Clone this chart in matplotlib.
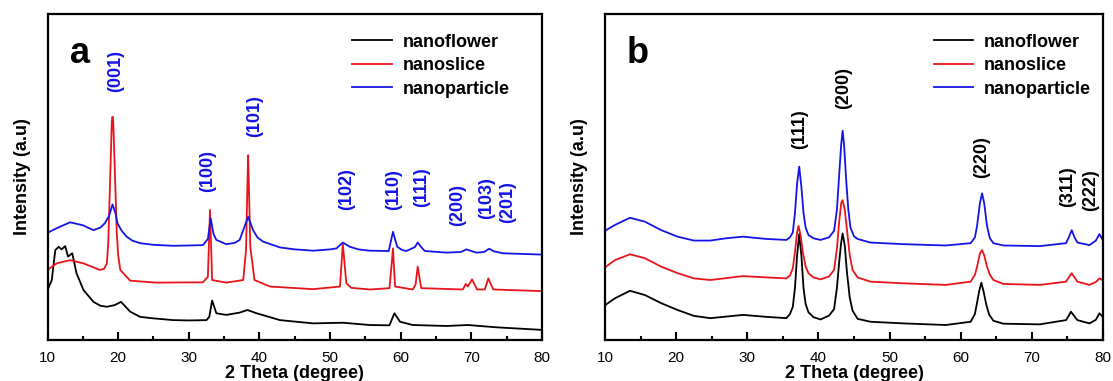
import matplotlib
matplotlib.use("Agg")
import matplotlib.pyplot as plt
from matplotlib.ticker import MultipleLocator

plt.rcParams['font.family'] = ['Liberation Sans', 'DejaVu Sans']

# ---- panel a : XRD patterns (2 theta in degree, intensity in a.u.) ----
a_flower_x = [10.0, 10.6, 11.1, 11.6, 12.0, 12.5, 12.9, 13.5, 14.1, 15.1, 16.5, 17.5, 18.4, 19.5, 20.4,
              21.7, 23.1, 24.7, 27.8, 30.0, 32.5, 32.9, 33.3, 33.9, 35.3, 37.2, 38.3, 39.6, 42.9,
              47.6, 51.8, 55.6, 58.4, 59.1, 59.9, 61.7, 66.5, 69.5, 73.5, 80.0]
a_flower_y = [153, 184, 276, 286, 278, 288, 256, 266, 205, 153, 117, 105, 102, 107, 117,
              87, 71, 67, 61, 60, 61, 71, 121, 82, 77, 84, 92, 82, 61,
              51, 53, 46, 45, 82, 56, 46, 43, 46, 39, 31]

a_slice_x = [10.0, 11.3, 13.2, 15.1, 17.4, 18.0, 18.4, 18.6, 18.9, 19.1, 19.2, 19.3, 19.5, 19.8, 20.0,
             20.3, 21.7, 25.4, 32.0, 32.7, 33.0, 33.3, 35.3, 37.7, 38.1, 38.3, 38.4, 38.5, 38.7,
             39.3, 41.5, 47.6, 51.4, 51.8, 52.3, 53.0, 55.6, 58.4, 58.7, 58.9, 59.0, 59.2, 61.7,
             62.1, 62.4, 62.9, 68.8, 69.2, 69.5, 70.1, 70.8, 71.9, 72.4, 73.1, 80.0]
a_slice_y = [215, 235, 245, 235, 215, 218, 235, 300, 520, 670, 685, 670, 540, 330, 260,
             215, 182, 176, 177, 194, 399, 184, 176, 184, 276, 480, 567, 480, 286,
             184, 164, 156, 164, 294, 174, 160, 155, 159, 230, 281, 240, 164, 155,
             170, 225, 159, 155, 172, 164, 186, 155, 155, 189, 155, 150]

a_part_x = [10.0, 11.5, 13.2, 15.0, 16.5, 17.5, 18.1, 18.7, 19.2, 19.6, 19.9, 20.5, 21.2, 22.0,
            23.1, 25.0, 27.8, 30.0, 32.0, 32.7, 33.1, 33.5, 33.9, 35.3, 36.5, 37.2, 37.7, 38.4,
            39.1, 39.7, 40.5, 42.9, 45.0, 47.6, 50.0, 50.9, 51.8, 52.8, 54.0, 55.6, 58.3, 58.9,
            59.5, 60.2, 60.8, 62.0, 62.4, 62.9, 63.4, 66.5, 68.5, 69.3, 70.7, 71.8, 72.5, 73.2,
            74.5, 80.0]
a_part_y = [329, 345, 361, 352, 337, 345, 358, 380, 416, 390, 358, 335, 317, 305,
            297, 292, 289, 290, 291, 310, 373, 325, 307, 294, 298, 307, 337, 378,
            337, 315, 302, 284, 278, 274, 278, 281, 299, 286, 278, 274, 273, 332,
            286, 276, 273, 285, 299, 285, 273, 268, 270, 278, 268, 270, 280, 272,
            266, 262]

a_hkl = ['(001)', '(100)', '(101)', '(102)', '(110)', '(111)', '(200)', '(103)', '(201)']
a_hkl_x = [19.6, 32.6, 39.3, 52.3, 59.0, 62.9, 68.1, 72.2, 75.2]
a_hkl_y = [825, 519, 687, 463, 462, 468, 414, 435, 423]

# ---- panel b ----
b_flower_x = [10.0, 11.4, 13.5, 15.6, 17.9, 20.2, 22.5, 24.8, 29.4, 32.7, 35.5, 36.0, 36.4, 36.7,
              37.0, 37.3, 37.6, 37.9, 38.2, 38.6, 39.3, 40.3, 41.5, 42.2, 42.6, 42.9, 43.2, 43.4,
              43.7, 44.0, 44.4, 44.8, 45.5, 47.3, 51.9, 57.9, 61.4, 62.0, 62.3, 62.6, 62.9, 63.2,
              63.6, 64.0, 64.6, 66.0, 71.1, 74.8, 75.2, 75.5, 75.9, 76.4, 78.1, 79.0, 79.5, 80.0]
b_flower_y = [107, 128, 151, 138, 113, 92, 74, 67, 77, 71, 67, 80, 102, 160,
              260, 325, 260, 160, 110, 85, 70, 63, 75, 95, 160, 235, 300, 327,
              290, 210, 130, 90, 65, 56, 51, 46, 56, 80, 115, 150, 176, 150,
              108, 78, 59, 50, 48, 61, 75, 87, 75, 61, 51, 62, 82, 70]

b_slice_x = [10.0, 11.4, 13.5, 15.6, 17.9, 20.2, 22.5, 24.8, 29.4, 32.7, 35.5, 36.0, 36.4, 36.7,
             37.0, 37.2, 37.5, 37.8, 38.2, 38.6, 39.3, 40.3, 41.5, 42.2, 42.6, 42.9, 43.2, 43.4,
             43.7, 44.0, 44.4, 44.8, 45.5, 47.3, 51.9, 57.9, 61.4, 62.0, 62.3, 62.7, 63.0, 63.3,
             63.7, 64.1, 64.6, 66.0, 71.1, 74.8, 75.2, 75.6, 76.0, 76.4, 78.1, 79.0, 79.5, 80.0]
b_slice_y = [223, 245, 263, 251, 225, 205, 189, 184, 196, 192, 189, 198, 220, 270,
             330, 350, 320, 270, 225, 205, 192, 186, 195, 215, 280, 360, 420, 429,
             400, 340, 260, 215, 192, 179, 174, 169, 179, 200, 225, 265, 276, 260,
             225, 200, 184, 172, 169, 179, 192, 205, 192, 179, 169, 178, 189, 183]

b_part_x = [10.0, 11.4, 13.5, 15.6, 17.9, 20.2, 22.5, 24.8, 27.0, 29.4, 32.7, 35.5, 36.0, 36.4,
            36.7, 37.0, 37.3, 37.6, 37.9, 38.2, 38.6, 39.3, 40.3, 41.5, 42.2, 42.6, 42.9, 43.2,
            43.4, 43.6, 43.9, 44.2, 44.5, 45.0, 45.5, 47.3, 51.9, 57.9, 61.4, 62.0, 62.3, 62.7,
            63.0, 63.3, 63.7, 64.1, 64.6, 66.0, 71.1, 74.8, 75.2, 75.6, 76.0, 76.4, 78.1, 79.0,
            79.5, 80.0]
b_part_y = [335, 353, 375, 363, 337, 317, 305, 305, 312, 317, 310, 307, 315, 330,
            390, 480, 532, 470, 390, 345, 322, 312, 307, 315, 335, 400, 501, 600,
            642, 600, 491, 400, 345, 318, 310, 299, 294, 290, 297, 315, 350, 420,
            450, 420, 350, 312, 297, 290, 288, 297, 315, 337, 315, 299, 291, 305,
            325, 305]

b_hkl = ['(111)', '(200)', '(220)', '(311)', '(222)']
b_hkl_x = [37.3, 43.6, 62.9, 75.0, 78.2]
b_hkl_y = [647, 773, 561, 469, 460]

labels = ['nanoflower', 'nanoslice', 'nanoparticle']
colors = ['black', '#e8141b', '#1414e6']

fig = plt.figure(figsize=(11.13, 3.81), dpi=100)
ax_a = fig.add_axes([0.0427, 0.1076, 0.4443, 0.8556])
ax_b = fig.add_axes([0.5436, 0.1076, 0.4474, 0.8556])


def draw(ax, series, hkl, hkl_x, hkl_y, hkl_color, letter, leg_x):
    for (x, y), lab, c in zip(series, labels, colors):
        ax.plot(x, y, color=c, lw=1.3, label=lab)
    for t, tx, ty in zip(hkl, hkl_x, hkl_y):
        ax.text(tx, ty, t, rotation=90, ha='center', va='center', color=hkl_color,
                fontsize=13, fontweight='bold')
    ax.text(0.065, 0.88, letter, transform=ax.transAxes, fontsize=26, fontweight='bold',
            ha='center', va='center')
    ax.set_xlim(10, 80)
    ax.set_ylim(0, 1000)
    ax.set_yticks([])
    ax.xaxis.set_major_locator(MultipleLocator(10))
    ax.xaxis.set_minor_locator(MultipleLocator(5))
    ax.tick_params(axis='x', which='major', direction='in', length=6, width=1.5, labelsize=11, pad=8)
    ax.tick_params(axis='x', which='minor', direction='in', length=3, width=1.5)
    for s in ax.spines.values():
        s.set_linewidth(1.6)
    ax.set_xlabel('2 Theta (degree)', fontsize=13, fontweight='bold', labelpad=0)
    ax.set_ylabel('Intensity (a.u)', fontsize=13, fontweight='bold', labelpad=12)
    ax.legend(loc='upper left', bbox_to_anchor=(leg_x, 0.94), frameon=False,
              prop={'weight': 'bold', 'size': 13}, handlelength=2.2, handletextpad=0.6,
              labelspacing=0.36, borderpad=0, borderaxespad=0)


draw(ax_a, [(a_flower_x, a_flower_y), (a_slice_x, a_slice_y), (a_part_x, a_part_y)],
     a_hkl, a_hkl_x, a_hkl_y, '#1414e6', 'a', 0.616)
draw(ax_b, [(b_flower_x, b_flower_y), (b_slice_x, b_slice_y), (b_part_x, b_part_y)],
     b_hkl, b_hkl_x, b_hkl_y, 'black', 'b', 0.66)

fig.savefig('out.png', dpi=100)
